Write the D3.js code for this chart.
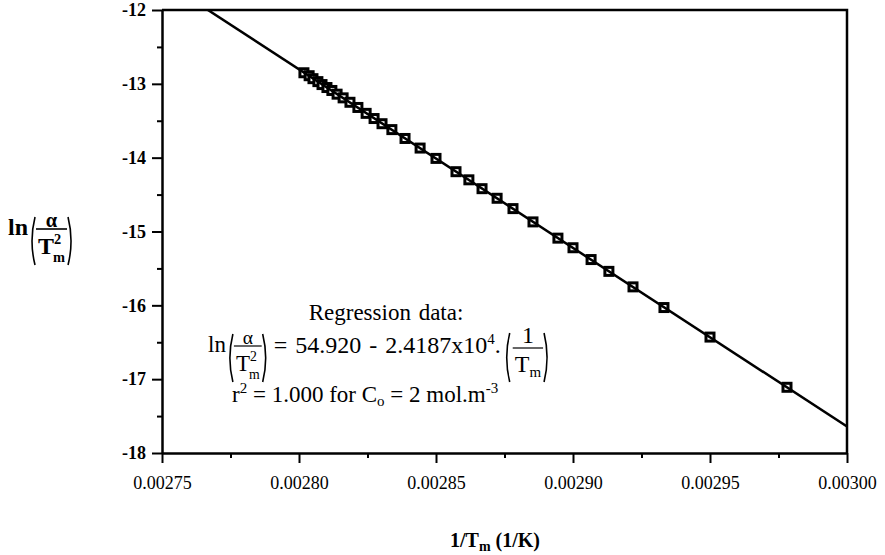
<!DOCTYPE html>
<html>
<head>
<meta charset="UTF-8">
<style>
  body { margin: 0; background: #fff; }
  svg, svg text { font-family: "Liberation Serif", "DejaVu Serif", "Times New Roman", serif !important; fill: #000; }
</style>
</head>
<body>
<script src="https://d3js.org/d3.v7.min.js"></script>
<script>
// 1/Tm (1/K) and ln(alpha/Tm^2)
var invT = [0.0028018, 0.0028037, 0.0028051, 0.0028069, 0.0028084, 0.0028102, 0.0028120,
            0.0028139, 0.0028161, 0.0028186, 0.0028215, 0.0028245, 0.0028274, 0.0028303,
            0.0028339, 0.0028387, 0.0028442, 0.0028500, 0.0028573, 0.0028620, 0.0028668,
            0.0028723, 0.0028781, 0.0028854, 0.0028945, 0.0029000, 0.0029066, 0.0029131,
            0.0029219, 0.0029332, 0.0029500, 0.0029781];
var lnRate = [-12.85, -12.89, -12.93, -12.97, -13.01, -13.05, -13.09,
              -13.14, -13.19, -13.25, -13.32, -13.40, -13.47, -13.54,
              -13.62, -13.74, -13.87, -14.01, -14.19, -14.30, -14.42,
              -14.55, -14.69, -14.87, -15.09, -15.22, -15.38, -15.54,
              -15.75, -16.03, -16.43, -17.11];
var xTicks = [0.00275, 0.00280, 0.00285, 0.00290, 0.00295, 0.00300];
var xMinor = [0.002775, 0.002825, 0.002875, 0.002925, 0.002975];
var yTicks = [-18, -17, -16, -15, -14, -13, -12];
var yMinor = [-17.5, -16.5, -15.5, -14.5, -13.5, -12.5];
var fit = [54.920, -24187]; // intercept, slope

var SERIF = '"Liberation Serif", "DejaVu Serif", "Times New Roman", serif';
var W = 885, H = 555;
var L = 162, T = 10, R = 847, B = 453;

var svg = d3.select('body').append('svg').attr('width', W).attr('height', H)
  .attr('font-family', SERIF);

var x = d3.scaleLinear().domain([0.00275, 0.00300]).range([L, R]);
var y = d3.scaleLinear().domain([-18, -12]).range([B, T]);

svg.append('clipPath').attr('id', 'plot')
  .append('rect').attr('x', L).attr('y', T).attr('width', R - L).attr('height', B - T);

// minor ticks
svg.append('g').attr('transform', 'translate(0,' + B + ')')
  .call(d3.axisBottom(x).tickValues(xMinor).tickSize(5).tickFormat(''))
  .call(function(g){ g.select('.domain').remove(); g.selectAll('line').attr('stroke-width', 2); });
svg.append('g').attr('transform', 'translate(' + L + ',0)')
  .call(d3.axisLeft(y).tickValues(yMinor).tickSize(5).tickFormat(''))
  .call(function(g){ g.select('.domain').remove(); g.selectAll('line').attr('stroke-width', 2); });

// major axes
var xa = svg.append('g').attr('transform', 'translate(0,' + B + ')')
  .call(d3.axisBottom(x).tickValues(xTicks).tickSize(10).tickSizeOuter(0).tickPadding(13)
        .tickFormat(d3.format('.5f')));
var ya = svg.append('g').attr('transform', 'translate(' + L + ',0)')
  .call(d3.axisLeft(y).tickValues(yTicks).tickSize(10).tickSizeOuter(0).tickPadding(6)
        .tickFormat(function(d){ return '-' + Math.abs(d); }));
[xa, ya].forEach(function(g){
  g.attr('font-family', SERIF).attr('font-size', 18);
  g.select('.domain').attr('stroke-width', 2.5);
  g.selectAll('line').attr('stroke-width', 2);
});
ya.selectAll('text').attr('font-weight', 'bold');

// frame top/right
svg.append('path').attr('d', 'M' + L + ',' + T + 'H' + R + 'V' + B)
  .attr('fill', 'none').attr('stroke', '#000').attr('stroke-width', 2.5);

// points
svg.append('g').selectAll('rect')
  .data(d3.zip(invT, lnRate)).enter().append('rect')
  .attr('x', function(d){ return x(d[0]) - 4; })
  .attr('y', function(d){ return y(d[1]) - 4; })
  .attr('width', 8).attr('height', 8)
  .attr('fill', '#fff').attr('stroke', '#000').attr('stroke-width', 3);

// regression line
svg.append('path')
  .attr('clip-path', 'url(#plot)')
  .attr('d', d3.line().x(function(d){ return x(d); }).y(function(d){ return y(fit[0] + fit[1] * d); })(x.domain()))
  .attr('fill', 'none').attr('stroke', '#000').attr('stroke-width', 2.5);

// text helpers
function put(g, str, px, py, fs, weight, anchor) {
  var t = g.append('text').attr('x', px).attr('y', py)
    .attr('font-family', SERIF).attr('font-size', fs)
    .attr('font-weight', weight || 'normal').attr('text-anchor', anchor || 'start')
    .attr('word-spacing', 2).text(str);
  return t.node().getComputedTextLength();
}
function paren(g, px, top, bot, left) {
  var w = 6, mid = (top + bot) / 2;
  var cx = left ? px - w : px + w;
  g.append('path')
    .attr('d', 'M' + px + ',' + top + 'Q' + cx + ',' + mid + ' ' + px + ',' + bot)
    .attr('fill', 'none').attr('stroke', '#000').attr('stroke-width', 1.6);
}
// ln( alpha / T^2_m ), returns end x
function lnFrac(g, x0, bar, fs, weight) {
  var cx = x0;
  cx += put(g, 'ln', cx, bar + 6, fs, weight);
  paren(g, cx + 7, bar - 12, bar + 36, true);
  cx += 8;
  var tw = put(g, 'T', cx + 2, bar + 25, fs, weight);
  put(g, '2', cx + 2 + tw, bar + 15, fs * 0.6, weight);
  var mw = put(g, 'm', cx + 1 + tw, bar + 33, fs * 0.6, weight);
  var fw = tw + mw + 3;
  put(g, '\u03b1', cx + fw / 2, bar - 2, fs * 0.85, weight, 'middle');
  g.append('line').attr('x1', cx).attr('x2', cx + fw).attr('y1', bar).attr('y2', bar)
    .attr('stroke', '#000').attr('stroke-width', weight === 'bold' ? 1.6 : 1.2);
  cx += fw + 1;
  paren(g, cx, bar - 12, bar + 36, false);
  return cx + 7;
}

// y axis title
lnFrac(svg.append('g'), 8, 229, 24, 'bold');

// x axis title
var xt = svg.append('text').attr('x', 495).attr('y', 547).attr('text-anchor', 'middle')
  .attr('font-family', SERIF).attr('font-weight', 'bold').attr('font-size', 20);
xt.append('tspan').text('1/T');
xt.append('tspan').attr('dy', 4).attr('font-size', 14).text('m');
xt.append('tspan').attr('dy', -4).text(' (1/K)');

// annotation
var FS = 23;
var ann = svg.append('g');
put(ann, 'Regression data:', 386, 320, FS, 'normal', 'middle');
var ex = lnFrac(ann, 208, 346, FS, 'normal');
ex += 4;
ex += put(ann, '= 54.920 - 2.4187x10', ex, 353, 24);
ex += put(ann, '4', ex, 344, 15);
ex += put(ann, '.', ex, 353, 24) + 2;
paren(ann, ex + 7, 333, 382, true);
ex += 10;
var tw = put(ann, 'T', ex + 2, 372, 24);
var mw = put(ann, 'm', ex + 2 + tw, 377, 15);
var fw = tw + mw + 4;
put(ann, '1', ex + fw / 2, 343, 24, 'normal', 'middle');
ann.append('line').attr('x1', ex).attr('x2', ex + fw).attr('y1', 348).attr('y2', 348)
  .attr('stroke', '#000').attr('stroke-width', 1.2);
paren(ann, ex + fw + 1, 333, 382, false);

var r2 = ann.append('text').attr('x', 232).attr('y', 402)
  .attr('font-family', SERIF).attr('font-size', FS);
r2.append('tspan').text('r');
r2.append('tspan').attr('dy', -9).attr('font-size', 15).text('2');
r2.append('tspan').attr('dy', 9).text(' = 1.000 for C');
r2.append('tspan').attr('dy', 4).attr('font-size', 15).text('o');
r2.append('tspan').attr('dy', -4).text(' = 2 mol.m');
r2.append('tspan').attr('dy', -9).attr('font-size', 15).text('-3');
</script>
</body>
</html>
